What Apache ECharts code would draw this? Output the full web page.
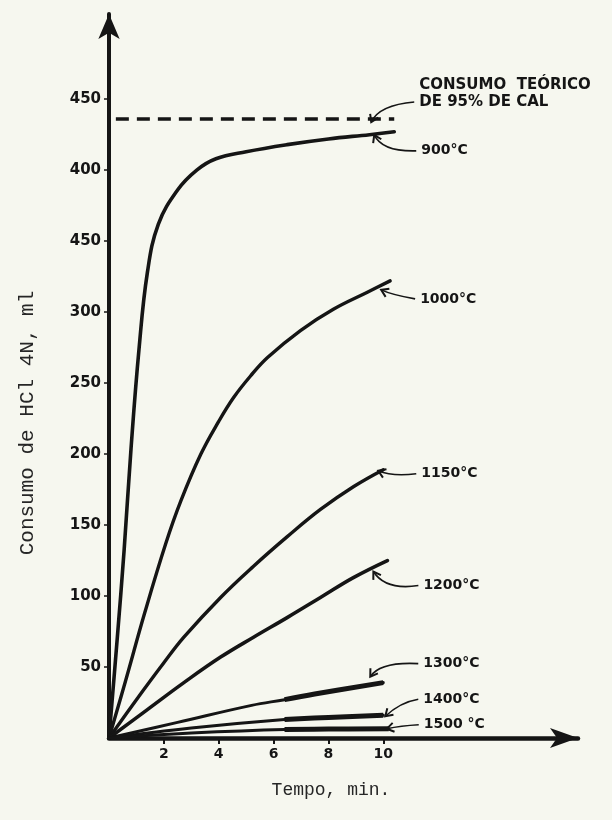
<!DOCTYPE html>
<html>
<head>
<meta charset="utf-8">
<script src="https://cdn.jsdelivr.net/npm/echarts@6.0.0/dist/echarts.min.js"></script>
<style>
  html, body { margin: 0; padding: 0; background: #f6f7ef; }
  #chart { width: 612px; height: 820px; }
</style>
</head>
<body>
<div id="chart"></div>
<script>
// Axis ticks
const xTickValues = [2, 4, 6, 8, 10];
const yTickValues = [50, 100, 150, 200, 250, 300, 350, 400, 450];
const yTickLabels = ['50', '100', '150', '200', '250', '300', '450', '400', '450'];

// Curve names (calcination temperature)
const curveNames = ['900°C', '1000°C', '1150°C', '1200°C', '1300°C', '1400°C', '1500 °C'];

// Time (min) and HCl 4N consumption (ml) for each temperature
const t900  = [0, 0.3, 0.55, 0.8, 1.09, 1.4, 1.8, 2.5, 3.2, 3.9, 5, 6.5, 8, 9.5, 10.4];
const v900  = [0, 70, 132, 203, 273, 328, 362, 386, 400, 408, 413, 418, 422, 425, 427];
const t1000 = [0, 0.6, 1.3, 2.07, 2.62, 3.35, 4.0, 4.55, 5.16, 5.78, 6.98, 8.18, 9.42, 10.25];
const v1000 = [0, 40, 88, 137, 167, 200, 223, 240, 255, 268, 287, 302, 314, 322];
const t1150 = [0, 1, 2, 2.73, 4.07, 5.27, 6.51, 7.71, 8.91, 10];
const v1150 = [0, 27, 53, 71, 99, 121, 142, 161, 177, 189];
const t1200 = [0, 1.4, 2.73, 4.07, 5.27, 6.51, 7.71, 8.91, 10.15];
const v1200 = [0, 20, 39, 57, 71, 85, 99, 113, 125];
const t1300 = [0, 2.5, 5.2, 6.4, 7.5, 10];
const v1300 = [0, 11, 23, 27, 31, 39];
const t1400 = [0, 3, 6.4, 8, 10];
const v1400 = [0, 7, 13, 14.5, 16];
const t1500 = [0, 3, 6.4, 8, 10.2];
const v1500 = [0, 3.5, 6, 6.3, 6.5];

// Theoretical consumption for 95% lime
const theoreticalValue = 436;
const theoreticalSpan = [0.25, 10.4];
const theoreticalText = ['CONSUMO  TEÓRICO', 'DE 95% DE CAL'];

const xTitle = 'Tempo, min.';
const yTitle = 'Consumo de HCl 4N, ml';

const ink = '#151515';
const pairs = (t, v) => t.map((x, i) => [x, v[i]]);
const curves = [
  pairs(t900, v900), pairs(t1000, v1000), pairs(t1150, v1150), pairs(t1200, v1200),
  pairs(t1300, v1300), pairs(t1400, v1400), pairs(t1500, v1500)
];
const widths = [3.6, 3.4, 3.4, 3.6, 3, 3, 3];

const series = curves.map((d, i) => ({
  type: 'line', name: curveNames[i], data: d, smooth: 0.4,
  showSymbol: false, symbol: 'none', silent: true,
  lineStyle: { color: ink, width: widths[i], cap: 'round', join: 'round' }, z: 3
}));
// the measured ends of the slow curves are inked heavier
[4, 5, 6].forEach(i => {
  series.push({
    type: 'line', data: curves[i].filter(p => p[0] >= 6.4), smooth: 0.4,
    showSymbol: false, symbol: 'none', silent: true,
    lineStyle: { color: ink, width: 5 }, z: 3
  });
});
series.push({
  type: 'line', data: theoreticalSpan.map(x => [x, theoreticalValue]),
  showSymbol: false, symbol: 'none', silent: true,
  lineStyle: { color: ink, width: 3.6, type: [13, 8] }, z: 3
});

const chart = echarts.init(document.getElementById('chart'), null, { renderer: 'canvas' });
const tickFont = { fontFamily: '"DejaVu Sans"', fontWeight: 'bold', color: ink };

chart.setOption({
  backgroundColor: '#f6f7ef',
  animation: false,
  grid: { left: 109, right: 34, top: 14, bottom: 82, containLabel: false },
  xAxis: {
    type: 'value', min: 0, max: 17.1,
    axisLine: { show: true, lineStyle: { color: ink, width: 4.5 }, symbol: ['none', 'arrow'], symbolSize: [15, 28] },
    axisTick: { show: true, length: 6, lineStyle: { color: ink, width: 2 }, customValues: xTickValues },
    axisLabel: Object.assign({ margin: 9, fontSize: 14, customValues: xTickValues }, tickFont),
    splitLine: { show: false }
  },
  yAxis: {
    type: 'value', min: 0, max: 510,
    axisLine: { show: true, lineStyle: { color: ink, width: 4 }, symbol: ['none', 'arrow'], symbolSize: [16, 25] },
    axisTick: { show: true, length: 5, lineStyle: { color: ink, width: 1.5 }, customValues: yTickValues },
    axisLabel: Object.assign({
      margin: 8, fontSize: 15, customValues: yTickValues,
      formatter: v => { const k = yTickValues.indexOf(v); return k < 0 ? '' : yTickLabels[k]; }
    }, tickFont),
    splitLine: { show: false }
  },
  series: series
});

// Labels with hand-drawn arrows pointing to the curve ends
const toPx = p => chart.convertToPixel({ gridIndex: 0 }, p);
const notes = [
  { i: 0, tip: [-20, 3], label: [27, 19], ctrl: [-12, 20] },
  { i: 1, tip: [-9, 9], label: [30, 18], ctrl: [2, 14] },
  { i: 2, tip: [-5, 1], label: [38, 4], ctrl: [9, 7] },
  { i: 3, tip: [-14, 11], label: [36, 25], ctrl: [-2, 30] },
  { i: 4, tip: [-13, -6], label: [40, -19], ctrl: [-3, -21] },
  { i: 5, tip: [2, 1], label: [40, -16], ctrl: [17, -13] },
  { i: 6, tip: [-2, 0], label: [35, -4], ctrl: [12, -3] }
];
const labelFont = 'bold 14px "DejaVu Sans"';
const elements = [];

function arrow(E, n, text, font) {
  const tip = [E[0] + n.tip[0], E[1] + n.tip[1]];
  const lab = [E[0] + n.label[0], E[1] + n.label[1]];
  const start = [lab[0] - 5, lab[1]];
  const ctrl = [E[0] + n.ctrl[0], E[1] + n.ctrl[1]];
  elements.push({
    type: 'bezierCurve', silent: true,
    shape: { x1: start[0], y1: start[1], x2: tip[0], y2: tip[1], cpx1: ctrl[0], cpy1: ctrl[1] },
    style: { stroke: ink, lineWidth: 1.6, fill: null }
  });
  let ux = tip[0] - ctrl[0], uy = tip[1] - ctrl[1];
  const len = Math.hypot(ux, uy) || 1; ux /= len; uy /= len;
  const nx = -uy, ny = ux;
  elements.push({
    type: 'polyline', silent: true,
    shape: { points: [
      [tip[0] - ux * 7 + nx * 4.5, tip[1] - uy * 7 + ny * 4.5],
      tip,
      [tip[0] - ux * 7 - nx * 4.5, tip[1] - uy * 7 - ny * 4.5]
    ] },
    style: { stroke: ink, lineWidth: 2, fill: null }
  });
  elements.push({
    type: 'text', silent: true, x: lab[0], y: lab[1],
    style: { text: text, font: font || labelFont, fill: ink, align: 'left', verticalAlign: 'middle' }
  });
}

notes.forEach(n => {
  const d = curves[n.i];
  arrow(toPx(d[d.length - 1]), n, curveNames[n.i]);
});
// theoretical consumption note: two lines, arrow from the second
const noteFont = 'bold 15px "DejaVu Sans"';
const Ed = toPx([theoreticalSpan[1], theoreticalValue]);
arrow(Ed, { tip: [-23, 3], label: [25, -17], ctrl: [-15, -14] }, theoreticalText[1], noteFont);
elements.push({
  type: 'text', silent: true, x: Ed[0] + 25, y: Ed[1] - 34,
  style: { text: theoreticalText[0], font: noteFont, fill: ink, align: 'left', verticalAlign: 'middle' }
});

// axis titles
elements.push({
  type: 'text', silent: true, x: 331, y: 790,
  style: { text: xTitle, font: '18px "Liberation Mono"', fill: '#262626', align: 'center', verticalAlign: 'middle' }
});
elements.push({
  type: 'text', silent: true, x: 27, y: 423, rotation: Math.PI / 2,
  style: { text: yTitle, font: '21px "Liberation Mono"', fill: '#262626', align: 'center', verticalAlign: 'middle' }
});

chart.setOption({ graphic: { elements: elements } });
</script>
</body>
</html>
